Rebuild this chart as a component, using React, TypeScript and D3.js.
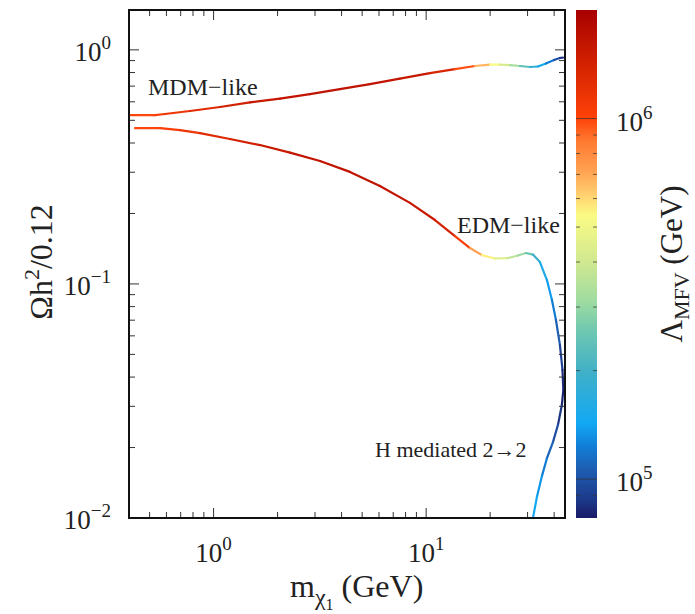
import React from "react";
import * as d3 from "d3";

// ---- data ----
const mdmMass = [0.40, 0.53, 0.59, 0.774, 1.072, 1.483, 2.053, 2.84, 3.93, 5.44, 7.53, 10.42, 13.66, 16.97, 19.96, 22.24, 24.79, 27.62, 30.78, 33.56, 36.61, 39.93, 42.6, 44.0];
const mdmOmega = [0.526, 0.526, 0.532, 0.548, 0.570, 0.596, 0.619, 0.647, 0.680, 0.714, 0.754, 0.796, 0.828, 0.853, 0.865, 0.865, 0.861, 0.853, 0.845, 0.849, 0.874, 0.905, 0.923, 0.927];
const mdmLambda = [9.8e5, 1.0e6, 1.1e6, 1.2e6, 1.35e6, 1.5e6, 1.6e6, 1.65e6, 1.65e6, 1.65e6, 1.6e6, 1.5e6, 1.25e6, 7.5e5, 6.0e5, 4.8e5, 3.8e5, 2.8e5, 2.0e5, 1.6e5, 1.35e5, 1.1e5, 9.0e4, 8.2e4];

const edmMass = [0.427, 0.56, 0.695, 0.863, 1.194, 1.653, 2.288, 3.167, 4.38, 6.06, 8.39, 11.0, 13.66, 16.08, 18.31, 21.07, 24.26, 27.03, 29.48, 31.8, 34.3, 37.0, 39.06, 40.8, 42.6, 43.8, 44.2, 43.5, 41.7, 39.5, 37.0, 35.05, 33.2, 31.8, 31.1];
const edmOmega = [0.463, 0.463, 0.454, 0.441, 0.416, 0.392, 0.364, 0.335, 0.301, 0.262, 0.222, 0.1875, 0.160, 0.1423, 0.1328, 0.1284, 0.129, 0.1322, 0.1355, 0.1335, 0.124, 0.1039, 0.0854, 0.0701, 0.0548, 0.0429, 0.0352, 0.0304, 0.0250, 0.0211, 0.0180, 0.0151, 0.0123, 0.0100, 0.00906];
const edmLambda = [9.8e5, 1.0e6, 1.1e6, 1.2e6, 1.35e6, 1.5e6, 1.6e6, 1.65e6, 1.65e6, 1.65e6, 1.6e6, 1.5e6, 1.3e6, 8.5e5, 6.2e5, 5.0e5, 4.0e5, 3.4e5, 2.8e5, 2.2e5, 1.7e5, 1.45e5, 1.3e5, 1.15e5, 1.0e5, 8.5e4, 8.0e4, 8.2e4, 9.2e4, 1.05e5, 1.15e5, 1.3e5, 1.4e5, 1.5e5, 1.5e5];

const xMajorTicks = [1, 10];
const xMajorExp = ["0", "1"];
const xMinorTicks = [0.5, 0.6, 0.7, 0.8, 0.9, 2, 3, 4, 5, 6, 7, 8, 9, 20, 30, 40];
const yMajorTicks = [0.01, 0.1, 1];
const yMajorExp = ["\u22122", "\u22121", "0"];
const yMinorTicks = [0.02, 0.03, 0.04, 0.05, 0.06, 0.07, 0.08, 0.09, 0.2, 0.3, 0.4, 0.5, 0.6, 0.7, 0.8, 0.9];
const cbMajorTicks = [1e5, 1e6];
const cbMajorExp = ["5", "6"];
const cbMinorTicks = [9e4, 2e5, 3e5, 4e5, 5e5, 6e5, 7e5, 8e5, 9e5];

// colormap stops (position along bar 0=bottom, 1=top)
const cmapT = [0, 0.035, 0.094, 0.144, 0.187, 0.287, 0.37, 0.429, 0.504, 0.596, 0.636, 0.685, 0.744, 0.787, 0.9, 1];
const cmapColors = ["#1a1a68", "#1c3888", "#1e5cb0", "#1080d8", "#12a8f4", "#40b0c8", "#70c8b0", "#a0dca0", "#d0e890", "#fbfb84", "#ffd070", "#ffa050", "#ff7830", "#ff4208", "#d02000", "#a80000"];

const W = 695, H = 614;
const L = 129, R = 565, T = 10, B = 518;
const CBL = 576, CBR = 597;
const FONT = "'Liberation Serif', 'Times New Roman', serif";

export default function App() {
  const x = d3.scaleLog().domain([0.4, 45]).range([L, R]);
  const y = d3.scaleLog().domain([0.01, 1.48]).range([B, T]);
  const cb = d3.scaleLog().domain([7.8e4, 2e6]).range([B, T]);
  const lamT = d3.scaleLog().domain([7.8e4, 2e6]).range([0, 1]);
  const cmap = d3.scaleLinear<string>().domain(cmapT).range(cmapColors).interpolate(d3.interpolateRgb);
  const color = (l: number) => cmap(lamT(l));

  const segs = (m: number[], o: number[], lam: number[], key: string) =>
    m.slice(0, -1).map((_, i) => (
      <line
        key={key + i}
        x1={x(m[i])}
        y1={y(o[i])}
        x2={x(m[i + 1])}
        y2={y(o[i + 1])}
        stroke={color(Math.sqrt(lam[i] * lam[i + 1]))}
        strokeWidth={2.2}
        strokeLinecap="round"
      />
    ));

  const tickColor = "#333";
  return (
    <svg width={W} height={H} style={{ position: "absolute", left: 0, top: 0, background: "#fff" }} fontFamily={FONT}>
      <defs>
        <clipPath id="plotclip">
          <rect x={L} y={T} width={R - L} height={B - T} />
        </clipPath>
        <linearGradient id="cbgrad" x1="0" y1="1" x2="0" y2="0">
          {cmapT.map((t, i) => (
            <stop key={i} offset={t} stopColor={cmapColors[i]} />
          ))}
        </linearGradient>
      </defs>

      {/* curves */}
      <g clipPath="url(#plotclip)">
        {segs(mdmMass, mdmOmega, mdmLambda, "m")}
        {segs(edmMass, edmOmega, edmLambda, "e")}
      </g>

      {/* ticks */}
      <g stroke={tickColor} strokeWidth={1}>
        {xMajorTicks.map((v) => (
          <g key={"xM" + v}>
            <line x1={x(v)} x2={x(v)} y1={B} y2={B - 10} />
            <line x1={x(v)} x2={x(v)} y1={T} y2={T + 10} />
          </g>
        ))}
        {xMinorTicks.map((v) => (
          <g key={"xm" + v}>
            <line x1={x(v)} x2={x(v)} y1={B} y2={B - 6} />
            <line x1={x(v)} x2={x(v)} y1={T} y2={T + 6} />
          </g>
        ))}
        {yMajorTicks.map((v) => (
          <g key={"yM" + v}>
            <line x1={L} x2={L + 10} y1={y(v)} y2={y(v)} />
            <line x1={R} x2={R - 10} y1={y(v)} y2={y(v)} />
          </g>
        ))}
        {yMinorTicks.map((v) => (
          <g key={"ym" + v}>
            <line x1={L} x2={L + 6} y1={y(v)} y2={y(v)} />
            <line x1={R} x2={R - 6} y1={y(v)} y2={y(v)} />
          </g>
        ))}
      </g>

      {/* frame */}
      <rect x={L} y={T} width={R - L} height={B - T} fill="none" stroke="#111" strokeWidth={2} />

      {/* tick labels */}
      <g fill="#222" fontSize={27}>
        {xMajorTicks.map((v, i) => (
          <text key={"xl" + v} x={x(v)} y={562} textAnchor="middle">
            10<tspan fontSize={19} dy={-12}>{xMajorExp[i]}</tspan>
          </text>
        ))}
        {yMajorTicks.map((v, i) => (
          <text key={"yl" + v} x={111} y={y(v) + 11} textAnchor="end">
            10<tspan fontSize={19} dy={-12}>{yMajorExp[i]}</tspan>
          </text>
        ))}
        {cbMajorTicks.map((v, i) => (
          <text key={"cl" + v} x={616} y={cb(v) + 12} textAnchor="start">
            10<tspan fontSize={19} dy={-12}>{cbMajorExp[i]}</tspan>
          </text>
        ))}
      </g>

      {/* colorbar */}
      <rect x={CBL} y={T} width={CBR - CBL} height={B - T} fill="url(#cbgrad)" />
      <g stroke="#333" strokeOpacity={0.7} strokeWidth={1}>
        {cbMajorTicks.map((v) => (
          <line key={"cbM" + v} x1={CBL} x2={CBR} y1={cb(v)} y2={cb(v)} />
        ))}
        {cbMinorTicks.map((v) => (
          <g key={"cbm" + v}>
            <line x1={CBL} x2={CBL + 4} y1={cb(v)} y2={cb(v)} />
            <line x1={CBR} x2={CBR - 4} y1={cb(v)} y2={cb(v)} />
          </g>
        ))}
      </g>

      {/* annotations */}
      <g fill="#222">
        <text x={148} y={95} fontSize={24}>{"MDM\u2212like"}</text>
        <text x={457} y={233} fontSize={24}>{"EDM\u2212like"}</text>
        <text x={375} y={457} fontSize={22}>{"H mediated 2\u21922"}</text>
      </g>

      {/* axis labels */}
      <g fill="#222" fontSize={32}>
        <text x={290} y={597}>
          m<tspan fontSize={24} dy={8}>{"\u03c7"}</tspan>
          <tspan fontSize={16} dy={5}>1</tspan>
          <tspan fontSize={32} dy={-13}>{" (GeV)"}</tspan>
        </text>
        <text transform="translate(52,262) rotate(-90)" textAnchor="middle">
          {"\u03a9h"}<tspan fontSize={22} dy={-13}>2</tspan>
          <tspan dy={13}>/0.12</tspan>
        </text>
        <text transform="translate(682,264) rotate(-90)" textAnchor="middle" fontSize={31}>
          {"\u039b"}<tspan fontSize={22} dy={7}>MFV</tspan>
          <tspan dy={-7}>{" (GeV)"}</tspan>
        </text>
      </g>
    </svg>
  );
}
